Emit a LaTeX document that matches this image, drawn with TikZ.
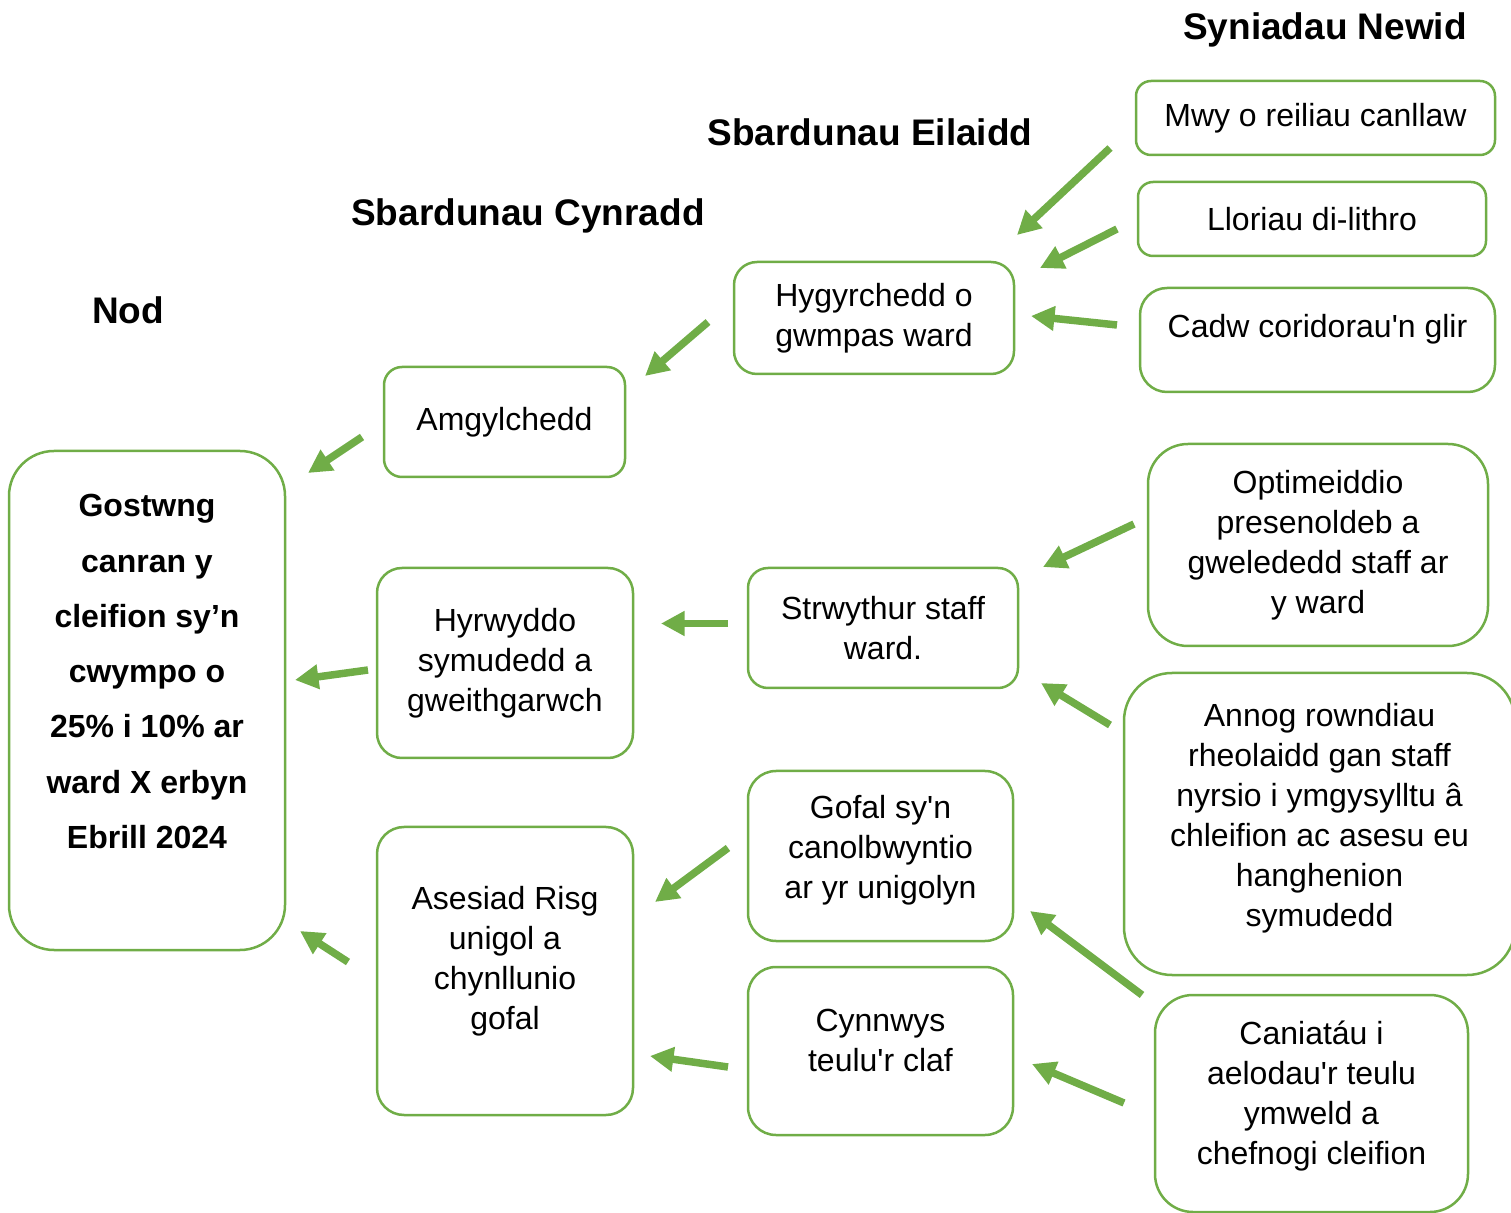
\documentclass[tikz,border=0pt]{standalone}
\usepackage{fontspec}
\setmainfont{Liberation Sans}[Ligatures=TeXOff]
\usetikzlibrary{arrows.meta}
\definecolor{BoxClr}{RGB}{112,173,71}
\definecolor{ArrowClr}{RGB}{112,173,71}
\newcommand\lift[1]{\\[#1]\mbox{}}

\begin{document}
\begin{tikzpicture}[x=0.5pt,y=-0.5pt,
  box/.style={draw=BoxClr,line width=1.25pt,align=center,inner sep=0pt,
    font=\fontsize{16}{20}\selectfont},
  goal/.style={box,font=\fontsize{16}{27.65}\selectfont\bfseries},
  sz/.style n args={3}{minimum width=#1,minimum height=#2,rounded corners=#3},
  heading/.style={anchor=base,inner sep=0pt,font=\fontsize{18.5}{22}\selectfont\bfseries},
  link/.style={draw=ArrowClr,line width=3.75pt,-{Triangle[length=11.75pt,width=11.75pt]}}]
\useasboundingbox (0,0) rectangle (1511,1213);

\node[heading] (syn) at (1325,40) {Syniadau Newid};
\node[heading] (eil) at (870,146) {Sbardunau Eilaidd};
\node[heading] (cyn) at (528,226) {Sbardunau Cynradd};
\node[heading] (nod) at (128,324) {Nod};

\node[goal,sz={138pt}{249.5pt}{22.5pt}] (gost) at (147,700.5)
  {Gostwng\\canran y\\cleifion sy’n\\cwympo o\\25\% i 10\% ar\\ward X erbyn\\Ebrill 2024\lift{1.4pt}};

\node[box,sz={120.5pt}{55pt}{9pt}] (amg) at (504.5,422) {Amgylchedd};
\node[box,sz={128pt}{95pt}{12.5pt}] (hyr) at (505,663) {Hyrwyddo\\symudedd a\\gweithgarwch};
\node[box,sz={128pt}{144pt}{13.5pt}] (ases) at (505,971) {Asesiad Risg\\unigol a\\chynllunio\\gofal\lift{-6.6pt}};

\node[box,sz={140pt}{56pt}{11.5pt}] (hyg) at (874,318) {Hygyrchedd o\\gwmpas ward};
\node[box,sz={135pt}{60pt}{10pt}] (strw) at (883,628) {Strwythur staff\\ward.};
\node[box,sz={132.5pt}{85pt}{14pt}] (gofal) at (880.5,856) {Gofal sy'n\\canolbwyntio\\ar yr unigolyn\lift{-10.6pt}};
\node[box,sz={132.5pt}{84pt}{14pt}] (cynn) at (880.5,1051) {Cynnwys\\teulu'r claf\lift{-9pt}};

\node[box,sz={179.5pt}{37pt}{7.5pt}] (mwy) at (1315.5,118) {Mwy o reiliau canllaw};
\node[box,sz={174pt}{37pt}{7.5pt}] (llor) at (1312,219) {Lloriau di-lithro};
\node[box,sz={177.5pt}{52pt}{13.5pt}] (cadw) at (1317.5,340) {Cadw coridorau'n glir\lift{-5.6pt}};
\node[box,sz={170pt}{101pt}{20pt}] (opt) at (1318,545) {Optimeiddio\\presenoldeb a\\gwelededd staff ar\\y ward};
\node[box,sz={195.5pt}{151pt}{24pt}] (annog) at (1319.5,824)
  {Annog rowndiau\\rheolaidd gan staff\\nyrsio i ymgysylltu â\\chleifion ac asesu eu\\hanghenion\\symudedd\lift{-10.6pt}};
\node[box,sz={156.5pt}{108.5pt}{19pt}] (can) at (1311.5,1103.5) {Caniatáu i\\aelodau'r teulu\\ymweld a\\chefnogi cleifion\lift{-9.6pt}};

\foreach \p/\x/\y in {mwy-o/1110/148,hyg-i1/1017/235,llor-o/1117/229,hyg-i2/1040/268,
  cadw-o/1117/325,hyg-i3/1031/316,hyg-o/708/322,amg-i/645/376,amg-o/362/437,gost-i1/308/473,
  opt-o/1134/524,strw-i1/1043/567,annog-o/1110/725,strw-i2/1041/683,strw-o/728/623.5,hyr-i/661/623.5,
  hyr-o/368/670,gost-i2/295/680,gofal-o/728/848,ases-i1/655/902,can-o1/1142/995,gofal-i/1030/911,
  can-o2/1124/1103,cynn-i/1032/1064,cynn-o/728/1067,ases-i2/650/1056,ases-o/348/962,gost-i3/300/931}
  \coordinate (\p) at (\x,\y);

\foreach \a/\b in {mwy-o/hyg-i1,llor-o/hyg-i2,cadw-o/hyg-i3,hyg-o/amg-i,amg-o/gost-i1,
  opt-o/strw-i1,annog-o/strw-i2,strw-o/hyr-i,hyr-o/gost-i2,gofal-o/ases-i1,
  can-o1/gofal-i,can-o2/cynn-i,cynn-o/ases-i2,ases-o/gost-i3}
  \draw[link] (\a) -- (\b);

\end{tikzpicture}
\end{document}
